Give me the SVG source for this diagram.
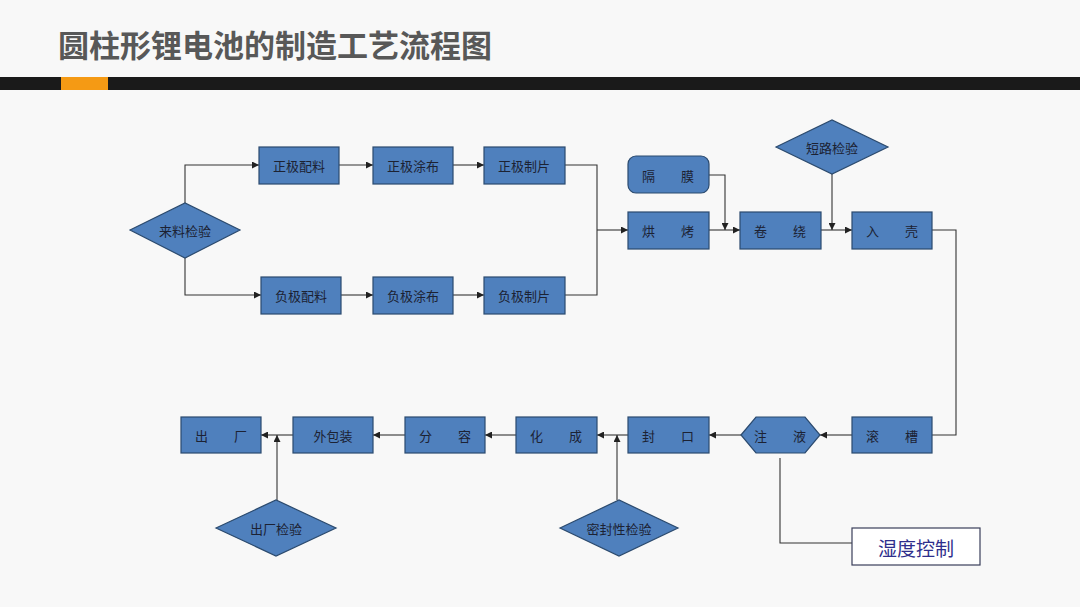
<svg xmlns="http://www.w3.org/2000/svg" width="1080" height="607" viewBox="0 0 1080 607">
<defs>
<style>
.bg{fill:#f8f8f8}
.title{font-family:"Noto Sans CJK SC","Liberation Sans",sans-serif;font-weight:bold;font-size:31px;fill:#585858}
.n{fill:#4f80bd;stroke:#2b4a6e;stroke-width:1.2}
.t{font-family:"Noto Sans CJK SC","Liberation Sans",sans-serif;font-size:13px;fill:#1c2233;text-anchor:middle;dominant-baseline:central}
.c{fill:none;stroke:#333;stroke-width:1.1}
.hum{fill:#fff;stroke:#3a3f5a;stroke-width:1.2}
.ht{font-family:"Noto Sans CJK SC","Liberation Sans",sans-serif;font-size:19px;fill:#2e2e8c;text-anchor:middle;dominant-baseline:central}
</style>
<marker id="a" viewBox="0 0 10 10" refX="10" refY="5" markerWidth="7" markerHeight="7" markerUnits="userSpaceOnUse" orient="auto">
<path d="M0,0L10,5L0,10z" fill="#222"/>
</marker>
</defs>
<rect class="bg" x="0" y="0" width="1080" height="607"/>
<text class="title" x="58" y="57">圆柱形锂电池的制造工艺流程图</text>
<rect x="0" y="77" width="1080" height="13" fill="#1a1a1a"/>
<rect x="61" y="77" width="47" height="13" fill="#f59a14"/>

<g id="connectors">
<path class="c" d="M185,203V165H259" marker-end="url(#a)"/>
<path class="c" d="M185,258V295H261" marker-end="url(#a)"/>
<path class="c" d="M339,165H373" marker-end="url(#a)"/>
<path class="c" d="M453,165H484" marker-end="url(#a)"/>
<path class="c" d="M341,295H373" marker-end="url(#a)"/>
<path class="c" d="M453,295H484" marker-end="url(#a)"/>
<path class="c" d="M565,165H597V295H565"/>
<path class="c" d="M597,230H628" marker-end="url(#a)"/>
<path class="c" d="M709,230H740" marker-end="url(#a)"/>
<path class="c" d="M709,175H725V230" marker-end="url(#a)"/>
<path class="c" d="M821,230H852" marker-end="url(#a)"/>
<path class="c" d="M832,174V230" marker-end="url(#a)"/>
<path class="c" d="M932,230H956V435H932"/>
<path class="c" d="M852,435H820" marker-end="url(#a)"/>
<path class="c" d="M741,435H709" marker-end="url(#a)"/>
<path class="c" d="M628,435H597" marker-end="url(#a)"/>
<path class="c" d="M617,500V435" marker-end="url(#a)"/>
<path class="c" d="M516,435H485" marker-end="url(#a)"/>
<path class="c" d="M405,435H373" marker-end="url(#a)"/>
<path class="c" d="M293,435H261" marker-end="url(#a)"/>
<path class="c" d="M277,500V435" marker-end="url(#a)"/>
<path class="c" d="M780,458V543H852"/>
</g>

<g id="n-laoliao"><polygon class="n" points="130,230 185,203 240,230 185,258"/><text class="t" x="185" y="230">来料检验</text></g>
<g id="n-zpl"><rect class="n" x="259" y="147" width="80" height="37"/><text class="t" x="299" y="165">正极配料</text></g>
<g id="n-ztb"><rect class="n" x="373" y="147" width="80" height="37"/><text class="t" x="413" y="165">正极涂布</text></g>
<g id="n-zzp"><rect class="n" x="484" y="147" width="81" height="37"/><text class="t" x="524" y="165">正极制片</text></g>
<g id="n-fpl"><rect class="n" x="261" y="277" width="80" height="37"/><text class="t" x="301" y="295">负极配料</text></g>
<g id="n-ftb"><rect class="n" x="373" y="277" width="80" height="37"/><text class="t" x="413" y="295">负极涂布</text></g>
<g id="n-fzp"><rect class="n" x="484" y="277" width="81" height="37"/><text class="t" x="524" y="295">负极制片</text></g>
<g id="n-gemo"><rect class="n" x="628" y="156" width="81" height="37" rx="8"/><text class="t" x="668" y="175">隔　　膜</text></g>
<g id="n-hongkao"><rect class="n" x="628" y="212" width="81" height="37"/><text class="t" x="668" y="230">烘　　烤</text></g>
<g id="n-juanrao"><rect class="n" x="740" y="212" width="81" height="37"/><text class="t" x="780" y="230">卷　　绕</text></g>
<g id="n-duanlu"><polygon class="n" points="776,147 832,120 888,147 832,174"/><text class="t" x="832" y="147">短路检验</text></g>
<g id="n-ruke"><rect class="n" x="852" y="212" width="80" height="37"/><text class="t" x="892" y="230">入　　壳</text></g>
<g id="n-guncao"><rect class="n" x="852" y="417" width="80" height="36"/><text class="t" x="892" y="435">滚　　槽</text></g>
<g id="n-zhuye"><polygon class="n" points="741,435 756,417 805,417 820,435 805,453 756,453"/><text class="t" x="780" y="435">注　　液</text></g>
<g id="n-fengkou"><rect class="n" x="628" y="417" width="81" height="36"/><text class="t" x="668" y="435">封　　口</text></g>
<g id="n-mifeng"><polygon class="n" points="560,528 619,500 678,528 619,556"/><text class="t" x="619" y="528">密封性检验</text></g>
<g id="n-huacheng"><rect class="n" x="516" y="417" width="81" height="36"/><text class="t" x="556" y="435">化　　成</text></g>
<g id="n-fenrong"><rect class="n" x="405" y="417" width="80" height="36"/><text class="t" x="445" y="435">分　　容</text></g>
<g id="n-baozhuang"><rect class="n" x="293" y="417" width="80" height="36"/><text class="t" x="333" y="435">外包装</text></g>
<g id="n-chuchang"><rect class="n" x="181" y="417" width="80" height="36"/><text class="t" x="221" y="435">出　　厂</text></g>
<g id="n-ccjy"><polygon class="n" points="216,528 276,500 336,528 276,556"/><text class="t" x="276" y="528">出厂检验</text></g>
<g id="n-shidu"><rect class="hum" x="852" y="528" width="128" height="37"/><text class="ht" x="916" y="547">湿度控制</text></g>
</svg>
